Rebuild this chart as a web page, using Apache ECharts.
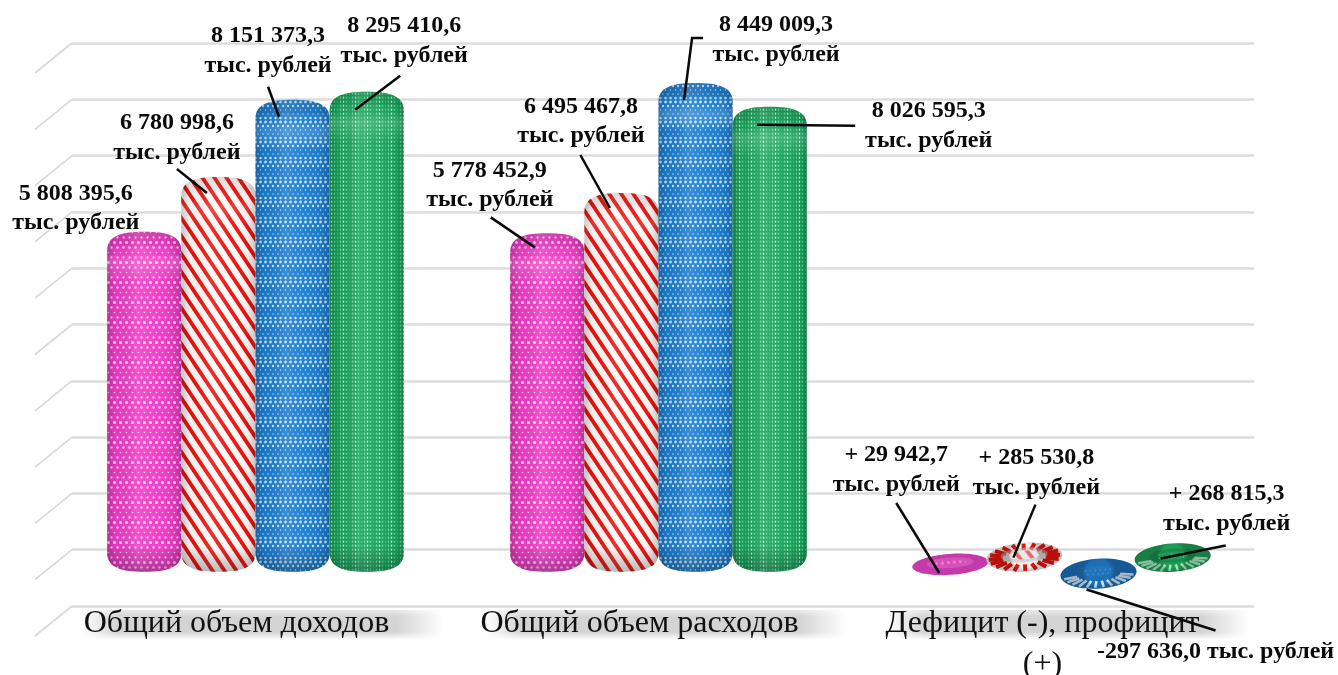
<!DOCTYPE html>
<html><head><meta charset="utf-8">
<style>html,body{margin:0;padding:0;background:#fff}#c{width:1338px;height:675px}</style>
<script src="https://cdn.jsdelivr.net/npm/echarts@6/dist/echarts.min.js"></script>
</head><body><div id="c"></div>
<script>
const categories = ['Общий объем доходов', 'Общий объем расходов', 'Дефицит (-), профицит (+)'];
const seriesPink  = [5808395.6, 5778452.9, 29942.7];
const seriesRed   = [6780998.6, 6495467.8, 285530.8];
const seriesBlue  = [8151373.3, 8449009.3, -297636.0];
const seriesGreen = [8295410.6, 8026595.3, 268815.3];
const tickValues  = [-1000000,0,1000000,2000000,3000000,4000000,5000000,6000000,7000000,8000000,9000000];
const unitText = 'тыс. рублей';

// annotation placement relative to each bar's value point: [labelDx, labelDy, leader points...]
const annotationLayout = [
  [ {l:[-68.5,-14.5], p:[]}, {l:[-57.5,-39], p:[[-56.5,-7],[-12.5,23]]}, {l:[-54,-78], p:[[-54,-45],[-11,25]]} ],
  [ {l:[-41.5,-30], p:[[-41.5,1],[-11.5,25]]}, {l:[-40.5,-62.5], p:[[-41,-29],[-11.5,24]]}, {l:[12,-61], p:[[11,-29],[-11,24]]} ],
  [ {l:[-24.5,-40], p:[[-24.5,-4],[-13.5,26]]}, {l:[80.5,-34], p:[[7.5,-36],[-3.5,-36],[-11.5,26]]}, {l:[117,85], p:[[117,64],[-12,23]], oneLine:true} ],
  [ {l:[37.5,-42], p:[[33.5,-7],[-11.5,27]]}, {l:[159,28], p:[[85.5,28],[-12.5,27]]}, {l:[54,-26], p:[[53,11],[-12,24]]} ]
];

function tile(w, h, draw) {
  const c = document.createElement('canvas'); c.width = w; c.height = h;
  draw(c.getContext('2d')); return {image: c, repeat: 'repeat'};
}
function dots(g, base, dot, cols, rows) {
  g.fillStyle = base; g.fillRect(0, 0, g.canvas.width, g.canvas.height);
  rows.forEach((r, i) => {
    g.fillStyle = dot;
    for (let x = (i % 2 ? cols / 2 : 0); x < g.canvas.width + cols; x += cols) {
      g.beginPath(); g.arc(x + 0.5, r[0], r[1], 0, 7); g.fill();
    }
  });
}
const patterns = [
  tile(6, 20, g => dots(g, '#ee3cc6', '#fbd5f2', 6, [[2.5,1.5],[7.5,1.2],[12.5,0.8],[17.5,1.15]])),
  tile(12, 18, g => {
    g.fillStyle = '#fdfbf9'; g.fillRect(0,0,12,18);
    g.strokeStyle = '#ea1410'; g.lineWidth = 3.8;
    [-24,-12,0,12,24].forEach(o => { g.beginPath(); g.moveTo(o-12,-18); g.lineTo(o+24,36); g.stroke(); });
  }),
  tile(5, 20, g => dots(g, '#1c7dcf', '#c6e6f9', 5, [[2,1.4],[6,1.2],[10,0.65],[14,0.75],[18,1.25]])),
  tile(12, 4, g => {
    g.fillStyle = '#13a35a'; g.fillRect(0,0,12,4);
    [[1.5,.25],[4.5,.6],[7.5,.95],[10.5,.55]].forEach(c => {
      g.fillStyle = 'rgba(190,245,205,' + c[1] + ')';
      g.fillRect(c[0]-.7, .6, 1.4, 2.2);
    });
  })
];
const discBase  = ['#c43aa8', '#f5f1ee', '#1a6fba', '#1f9c58'];
const discSpoke = [null, '#e5140f', '#cfe6f8', '#a9ecc0'];
const discSpokeW = [0, 4, 2.6, 2.4];
const discCore  = ['rgba(240,150,220,.3)', 'rgba(190,190,190,.55)', 'rgba(40,110,175,.65)', 'rgba(20,130,70,.6)'];
const discSpokes = [0, 20, 26, 26];

function fmt(v) {
  const s = Math.abs(v).toFixed(1).split('.');
  return s[0].replace(/\B(?=(\d{3})+$)/g, ' ') + ',' + s[1];
}
function signed(v, cat) {
  if (cat < 2) return fmt(v);
  return v < 0 ? '-' + fmt(v) : '+ ' + fmt(v);
}
function squirclePath(x0, x1, T, B, r) {
  const w = x1 - x0, xc = (x0 + x1) / 2;
  return `M${x0} ${T+r}C${x0} ${T+r*.2} ${x0+w*.2} ${T} ${xc} ${T}C${x1-w*.2} ${T} ${x1} ${T+r*.2} ${x1} ${T+r}` +
         `L${x1} ${B-r}C${x1} ${B-r*.2} ${x1-w*.2} ${B} ${xc} ${B}C${x0+w*.2} ${B} ${x0} ${B-r*.2} ${x0} ${B-r}Z`;
}

function barRenderer(si) {
  return function (params, api) {
    const cat = api.value(0), v = api.value(1);
    const band = api.size([1, 0])[0];
    const bw = band * 0.184;
    const base = api.coord([cat, 0]), tip = api.coord([cat, v]);
    const cx = base[0] + band * 0.0471 + (si - 1.5) * bw;
    const depthTop = band * 0.0223, depthBottom = band * 0.0546;
    let T = Math.min(base[1], tip[1]) + depthTop;
    let B = Math.max(base[1], tip[1]) + depthBottom;
    if (B - T < 21) { const m = (T + B) / 2; T = m - 10.5; B = m + 10.5; }
    const x0 = cx - bw / 2, x1 = cx + bw / 2, h = B - T;
    const children = [];
    if (h < 60) {
      const rx = bw / 2 + 1, ry = h / 2, cy = (T + B) / 2;
      const inner = [];
      inner.push({type: 'ellipse', shape: {cx, cy, rx, ry}, style: {fill: discBase[si]}});
      const n = discSpokes[si];
      for (let i = 0; i < n; i++) {
        const a = i / n * Math.PI * 2;
        if (si !== 1 && Math.sin(a) < 0.15) continue;
        inner.push({type: 'line', shape: {
          x1: cx + rx * .58 * Math.cos(a), y1: cy + ry * .5 * Math.sin(a),
          x2: cx + rx * .94 * Math.cos(a), y2: cy + ry * .94 * Math.sin(a)},
          style: {stroke: discSpoke[si], lineWidth: discSpokeW[si]}});
      }
      inner.push({type: 'ellipse', shape: {cx, cy: cy - ry * .15, rx: rx * .62, ry: ry * .5}, style: {fill: discCore[si]}});
      inner.push({type: 'ellipse', shape: {cx, cy: cy - ry * .15, rx: rx * .42, ry: ry * .3}, style: {fill: patterns[si], opacity: si === 1 ? .55 : .4}});
      inner.push({type: 'ellipse', shape: {cx, cy, rx, ry}, style: {fill: {type: 'radial', x: .5, y: .45, r: .55,
        colorStops: [{offset: .75, color: 'rgba(0,0,0,0)'}, {offset: 1, color: si === 0 ? 'rgba(0,0,0,0)' : 'rgba(0,0,0,.2)'}]}}});
      children.push({type: 'group', rotation: 0.07, originX: cx, originY: cy, children: inner});
    } else {
      const r = 19, d = squirclePath(x0, x1, T, B, r);
      const mk = style => ({type: 'path', shape: {pathData: d, x: x0, y: T, width: x1 - x0, height: h, layout: 'cover'}, style});
      children.push(mk({fill: patterns[si]}));
      children.push(mk({fill: {type: 'linear', x: 0, y: 0, x2: 1, y2: 0, colorStops: [
        {offset: 0, color: 'rgba(0,0,0,.22)'}, {offset: .12, color: 'rgba(0,0,0,.04)'},
        {offset: .4, color: 'rgba(255,255,255,.12)'}, {offset: .7, color: 'rgba(255,255,255,.03)'},
        {offset: .9, color: 'rgba(0,0,0,.06)'}, {offset: 1, color: 'rgba(0,0,0,.22)'}]}}));
      children.push(mk({fill: {type: 'linear', global: true, x: 0, y: T, x2: 0, y2: T + 50, colorStops: [
        {offset: 0, color: 'rgba(0,0,0,.12)'}, {offset: .25, color: 'rgba(0,0,0,.07)'}, {offset: .42, color: 'rgba(255,255,255,0)'},
        {offset: .6, color: 'rgba(255,255,255,.14)'}, {offset: 1, color: 'rgba(255,255,255,0)'}]}}));
      children.push(mk({fill: {type: 'linear', global: true, x: 0, y: B - 26, x2: 0, y2: B, colorStops: [
        {offset: 0, color: 'rgba(0,0,0,0)'}, {offset: 1, color: 'rgba(0,0,0,.26)'}]}}));
    }
    // value annotation and its leader
    const a = annotationLayout[si][cat];
    const ax = cx, ay = tip[1];
    if (a.p.length) {
      children.push({type: 'polyline', z2: 20, shape: {points: a.p.map(q => [ax + q[0], ay + q[1]])},
        style: {stroke: '#0a0a0a', lineWidth: 2.5, fill: 'none'}});
    }
    children.push({type: 'text', z2: 30, style: {
      text: signed(v, cat) + (a.oneLine ? ' ' : '\n') + unitText,
      x: ax + a.l[0], y: ay + a.l[1], align: 'center', verticalAlign: 'middle',
      font: 'bold 24px "Liberation Serif", serif', lineHeight: 29.5, fill: '#0a0a0a'}});
    return {type: 'group', children};
  };
}

function barSeries(name, values, si) {
  return {name, type: 'custom', xAxisIndex: 0, yAxisIndex: 0, z: 6,
    data: values.map((v, i) => [i, v]), encode: {x: 0, y: 1},
    renderItem: barRenderer(si)};
}

const option = {
  animation: false,
  backgroundColor: '#fff',
  grid: [
    {left: 35, width: 1209, top: 43, height: 563, outerBoundsMode: 'none'},
    {left: 72, width: 1182, top: 43, height: 563, outerBoundsMode: 'none'}
  ],
  xAxis: [
    {type: 'category', gridIndex: 0, data: categories, z: 5,
     axisLine: {show: false}, axisTick: {show: false},
     axisLabel: {interval: 0, margin: -3, lineHeight: 41, hideOverlap: false,
       formatter: s => s.replace(' (+)', '\n(+)'),
       fontFamily: '"Liberation Serif", serif', fontSize: 32, color: '#111'}},
    {type: 'value', gridIndex: 1, min: 0, max: 1, show: false}
  ],
  yAxis: [
    {type: 'value', gridIndex: 0, min: -1000000, max: 9000000, interval: 1000000, show: false},
    {type: 'value', gridIndex: 1, min: -1000000, max: 9000000, interval: 1000000,
     axisLine: {show: false}, axisTick: {show: false}, axisLabel: {show: false},
     splitLine: {show: true, lineStyle: {color: '#dcdcdc', width: 2.6}}}
  ],
  series: [
    {name: 'Стенка', type: 'custom', xAxisIndex: 1, yAxisIndex: 1, z: 1, silent: true,
     data: tickValues.map(t => [0, t]), encode: {x: 0, y: 1},
     renderItem(params, api) {
       const p = api.coord([0, api.value(1)]);
       return {type: 'line', shape: {x1: p[0], y1: p[1], x2: p[0] - 37, y2: p[1] + 30},
         style: {stroke: '#d9d9d9', lineWidth: 1.7}};
     }},
    {name: 'Тень', type: 'custom', xAxisIndex: 0, yAxisIndex: 0, z: 1, silent: true,
     data: categories.map((c, i) => [i, -1000000]), encode: {x: 0, y: 1},
     renderItem(params, api) {
       const p = api.coord([api.value(0), -1000000]);
       const x = p[0] - 155, w = 362;
       const top = p[1] + 4, hh = 30;
       const fade = (from, to) => ({type: 'linear', x: 0, y: 0, x2: 0, y2: 1, colorStops: [
         {offset: 0, color: 'rgba(255,255,255,' + from + ')'}, {offset: 1, color: 'rgba(255,255,255,' + to + ')'}]});
       return {type: 'group', children: [
         {type: 'rect', shape: {x, y: top, width: w, height: hh},
          style: {fill: {type: 'linear', x: 0, y: 0, x2: 1, y2: 0, colorStops: [
            {offset: 0, color: 'rgba(195,195,195,0)'}, {offset: .1, color: 'rgba(195,195,195,.72)'},
            {offset: .87, color: 'rgba(195,195,195,.72)'}, {offset: 1, color: 'rgba(195,195,195,0)'}]}}},
         {type: 'rect', shape: {x: x - 1, y: top, width: w + 2, height: 7}, style: {fill: fade(.5, 0)}},
         {type: 'rect', shape: {x: x - 1, y: top + hh - 8, width: w + 2, height: 8}, style: {fill: fade(0, 1)}}
       ]};
     }},
    barSeries('Ряд 1', seriesPink, 0),
    barSeries('Ряд 2', seriesRed, 1),
    barSeries('Ряд 3', seriesBlue, 2),
    barSeries('Ряд 4', seriesGreen, 3)
  ]
};
echarts.init(document.getElementById('c')).setOption(option);
</script></body></html>
